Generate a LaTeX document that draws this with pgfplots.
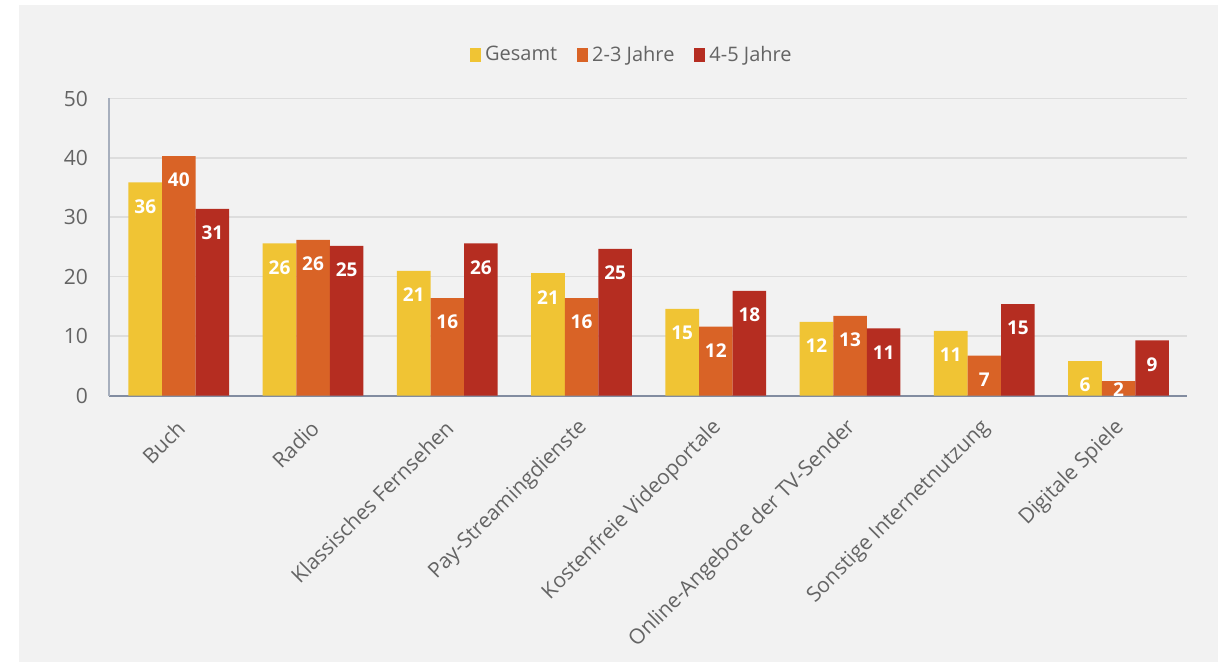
\documentclass[border=0pt]{standalone}
\usepackage{fontspec}
\setmainfont{Open Sans}
\usepackage{pgfplots}
\pgfplotsset{compat=1.18}
\usepackage{pgfplotstable}
\definecolor{cG}{RGB}{240,196,52}
\definecolor{cZ}{RGB}{217,99,38}
\definecolor{cV}{RGB}{181,45,33}
\definecolor{bg}{RGB}{242,242,242}
\definecolor{gridc}{RGB}{221,221,221}
\definecolor{tickc}{RGB}{100,100,100}
\definecolor{axc}{RGB}{130,140,160}

\pgfplotstableread{
x g z v
0 35.9 40.3 31.4
1 25.6 26.2 25.2
2 21.0 16.4 25.6
3 20.6 16.4 24.7
4 14.6 11.6 17.6
5 12.4 13.4 11.3
6 10.9 6.7 15.4
7 5.8 2.4 9.3
}\data

\begin{document}
\begin{tikzpicture}
\path[use as bounding box, fill=white] (-54.5pt,-133.25pt) rectangle (554.5pt,197.75pt);
\fill[bg] (-45pt,-133.25pt) rectangle (554.5pt,195.25pt);
\begin{axis}[
  at={(0pt,0pt)}, anchor=south west,
  scale only axis, width=539pt, height=148.5pt,
  xmin=-0.52, xmax=7.51, ymin=0, ymax=50,
  ybar, bar width=0.25,
  clip=false,
  axis x line=bottom, axis y line=left,
  axis line style={-},
  x axis line style={draw=axc, line width=1pt},
  y axis line style={draw=axc!70, line width=1.3pt},
  ymajorgrids, grid style={draw=gridc, line width=0.8pt},
  ytick={0,10,20,30,40,50},
  xtick={0,1,2,3,4,5,6,7},
  xticklabels={Buch,Radio,Klassisches Fernsehen,Pay-Streamingdienste,Kostenfreie Videoportale,Online-Angebote der TV-Sender,Sonstige Internetnutzung,Digitale Spiele},
  major tick length=0pt,
  tick label style={text=tickc},
  /pgf/number format/assume math mode=true,
  yticklabel style={font=\fontsize{10.5}{12}\selectfont, xshift=-7pt},
  xticklabel style={font=\fontsize{10.5}{12}\selectfont, rotate=45, anchor=east, xshift=-6pt, yshift=-11pt},
  nodes near coords,
  point meta=rawy,
  visualization depends on={rawy \as \rawy},
  nodes near coords style={font=\bfseries\fontsize{9.5}{11}\selectfont, text=white, anchor=center,
     /pgf/number format/fixed, /pgf/number format/precision=0},
  every node near coord/.append style={yshift={(\rawy<5)*8-12}},
  legend style={at={(rel axis cs:0.486,1.1465)}, anchor=center, legend columns=-1,
     draw=none, fill=none, font=\fontsize{10}{12}\selectfont, text=tickc,
     /tikz/every even column/.append style={column sep=8pt}},
  legend image code/.code={\fill[#1, draw=none] (0pt,-3.5pt) rectangle (5.5pt,3.5pt);},
]
\addplot[fill=cG, draw=none, bar shift=-0.25] table[x=x, y=g] {\data};
\addlegendentry{Gesamt}
\addplot[fill=cZ, draw=none, bar shift=0] table[x=x, y=z] {\data};
\addlegendentry{2-3 Jahre}
\addplot[fill=cV, draw=none, bar shift=0.25] table[x=x, y=v] {\data};
\addlegendentry{4-5 Jahre}
\end{axis}
\end{tikzpicture}
\end{document}
